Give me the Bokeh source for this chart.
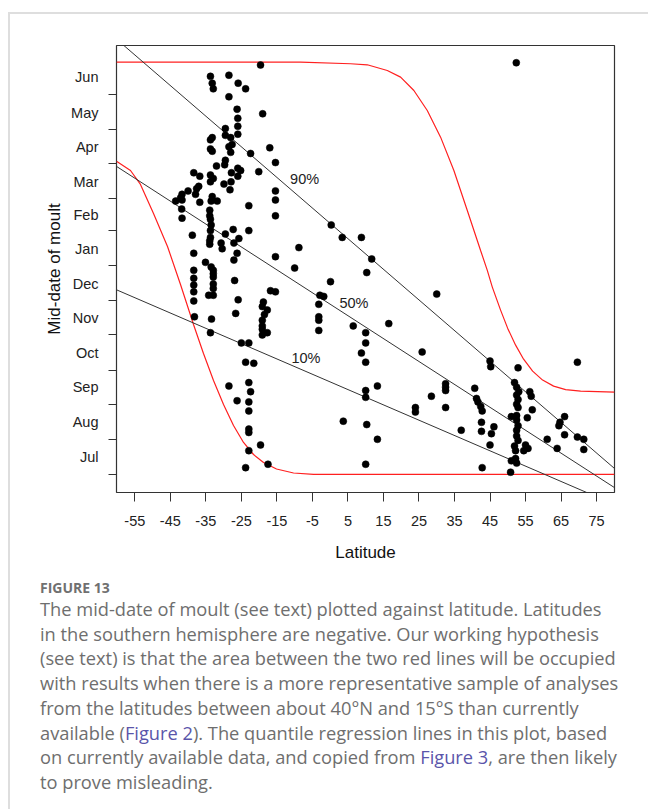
from bokeh.plotting import figure
from bokeh.layouts import column, row
from bokeh.models import Range1d, FixedTicker, Spacer, Div
from bokeh.embed import file_html
from bokeh.resources import INLINE
from bokeh.core.properties import value

# Mid-date of moult, in days after 1 July, against latitude (degrees, south negative)
latitude = [
    -19.6, -33.7, -28.5, -33.2, -32.9, -25.9, -23.8, -28.5, -26.2, -19.0,
    -26.0, -26.0, -29.5, -26.0, -33.2, -33.7, -29.5, -28.0, -27.6, -28.5,
    -33.7, -33.2, -28.0, -22.4, -17.0, -15.4, -29.5, -29.7, -32.0, -26.0,
    -25.2, -27.8, -26.0, -20.1, -38.4, -36.7, -33.7, -32.9, -33.7, -29.9,
    -27.9, -37.0, -37.6, -40.0, -28.2, -15.4, -41.7, -42.1, -37.9, -43.5,
    -41.7, -36.7, -33.2, -33.5, -31.8, -15.4, -41.8, -22.9, -33.9, -41.7,
    -33.9, -33.7, -15.4, -33.5, -33.7, -27.3, -22.9, -29.5, -38.8, -33.7,
    -25.7, -27.1, -33.9, -30.7, -33.9, -30.4, -26.2, -38.4, -15.4, -27.1,
    -35.1, -33.5, -38.4, -32.9, -32.9, -38.4, -32.9, -26.9, -38.4, -32.9,
    -32.9, -38.4, -34.2, -32.9, -16.8, -15.4, -25.9, -38.4, -18.8, -19.1,
    -17.7, -26.6, -18.5, -38.2, -33.4, -19.1, -19.1, -19.1, -17.7, -19.1,
    -33.7, -25.0, -22.9, -23.8, -21.5, -22.9, -28.5, -22.4, -26.2, -22.9,
    -22.9, -22.9, -22.9, -19.6, -22.9, -17.5, -23.8,
    0.3, 3.4, 8.8, -8.8, 11.7, -10.0, 10.3, 0.1, 30.0, -2.9,
    -1.8, -3.2, -3.2, -3.2, 6.5, 16.5, -3.2, 10.0, 10.0, 8.8,
    25.9, 10.0, 13.3, 10.0, 10.0, 32.5, 32.5, 32.5, 28.5, 24.0,
    24.0, 32.5, 3.7, 10.3, 13.3, 10.0,
    45.0, 45.2, 52.9, 69.6, 40.7, 41.2, 41.6, 42.4, 42.8, 42.6,
    46.1, 36.9, 42.6, 45.4, 45.0, 42.8, 50.8, 51.9, 52.5, 53.1,
    52.5, 52.9, 52.5, 52.9, 51.0, 52.5, 52.5, 52.9, 52.5, 52.5,
    52.9, 51.9, 52.2, 51.0, 52.2, 52.5, 56.2, 56.6, 56.9, 55.5,
    55.0, 55.7, 54.5, 61.1, 63.9, 64.7, 64.4, 66.0, 66.0, 69.6,
    71.4, 71.4, 52.4,
]
mid_date = [
    361, 351, 352, 345, 340, 345, 340, 333, 322, 318,
    314, 307, 305, 300, 297, 295, 299, 297, 291, 289,
    287, 285, 284, 283, 288, 275, 277, 273, 272, 270,
    268, 266, 263, 267, 266, 263, 264, 261, 258, 256,
    258, 254, 252, 250, 251, 250, 247, 244, 247, 241,
    242, 240, 245, 241, 241, 242, 234, 237, 233, 226,
    228, 225, 228, 220, 215, 216, 215, 212, 211, 209,
    208, 204, 206, 204, 203, 199, 195, 195, 192, 189,
    187, 183, 180, 180, 177, 173, 174, 171, 167, 168,
    164, 161, 158, 158, 162, 161, 154, 153, 152, 148,
    145, 142, 141, 139, 137, 136, 131, 128, 125, 123,
    125, 116, 116, 99, 98, 81, 78, 73, 65, 64,
    56, 40, 37, 26, 21, 9, 6,
    220, 209, 209, 200, 190, 182, 178, 170, 159, 158,
    157, 150, 139, 136, 131, 133, 127, 125, 116, 107,
    108, 99, 78, 74, 68, 80, 77, 74, 69, 59,
    55, 59, 47, 44, 31, 9,
    100, 95, 94, 99, 76, 67, 64, 60, 56, 46,
    42, 39, 38, 36, 26, 6, 2, 81, 77, 73,
    70, 66, 62, 59, 51, 52, 48, 43, 39, 34,
    30, 25, 21, 12, 14, 10, 73, 69, 57, 50,
    26, 23, 21, 31, 23, 46, 43, 51, 35, 33,
    31, 22, 363,
]

# Quantile regression lines: mid-date = intercept + slope * latitude
quantile_names = ["90%", "50%", "10%"]
quantile_intercept = [221.4, 150.1, 81.6]
quantile_slope = [-2.70, -2.02, -1.35]
quantile_label_lat = [-7.2, 6.7, -6.8]
quantile_label_day = [260.1, 151.6, 102.3]

# Hypothesised envelope of results (red lines)
lower_lat = [-60.15, -56.21, -53.40, -49.73, -45.79, -42.13, -38.47, -35.66, -32.84, -30.02,
             -27.21, -24.39, -21.58, -18.76, -15.10, -10.31, -4.68, 80.05]
lower_day = [276.2, 268.0, 255.7, 230.1, 201.0, 167.5, 132.2, 106.7, 82.9, 61.7,
             43.2, 28.2, 17.6, 10.6, 4.8, 1.3, 0.0, 0.0]
upper_lat = [-60.15, -8.34, 5.74, 10.45, 16.08, 19.83, 23.57, 27.34, 31.09, 34.83,
             38.61, 42.35, 44.24, 45.65, 47.98, 49.96, 52.21, 54.46, 57.00, 59.81,
             62.91, 66.29, 70.51, 80.05]
upper_day = [363.5, 363.5, 362.1, 361.2, 356.2, 350.3, 338.5, 320.9, 297.4, 268.0,
             232.7, 197.5, 179.9, 165.2, 144.9, 129.0, 114.0, 101.6, 91.1, 83.2,
             77.9, 74.8, 73.5, 72.6]

# Axis ticks
lat_ticks = [-55, -45, -35, -25, -15, -5, 5, 15, 25, 35, 45, 55, 65, 75]
month_names = ["Jul", "Aug", "Sep", "Oct", "Nov", "Dec",
               "Jan", "Feb", "Mar", "Apr", "May", "Jun"]
month_lengths = [31, 31, 30, 31, 30, 31, 31, 28, 31, 30, 31, 30]

month_starts = []
month_mids = []
start = 0
for n in month_lengths:
    month_starts.append(start)
    month_mids.append(start + n // 2)
    start += n

X_MIN, X_MAX = -60.15, 80.05
Y_MIN, Y_MAX = -15.9, 378.2

# Page geometry (pixels)
W, H = 648, 809
CARD_X, CARD_Y, CARD_BORDER = 8, 12, 2
IN_X, IN_Y = CARD_X + CARD_BORDER, CARD_Y + CARD_BORDER   # inner top-left of the card
INNER_W = W - IN_X
CHART_BOTTOM = 575
CHART_H = CHART_BOTTOM - IN_Y
CAP_H = H - CHART_BOTTOM
FRAME_L, FRAME_R, FRAME_T, FRAME_B = 116, 614, 45, 492

AX_FONT = "Liberation Sans"

# Chart
p = figure(width=INNER_W, height=CHART_H,
           x_range=Range1d(X_MIN, X_MAX), y_range=Range1d(Y_MIN, Y_MAX),
           output_backend="svg", toolbar_location=None,
           min_border_left=FRAME_L - IN_X, min_border_right=W - FRAME_R,
           min_border_top=FRAME_T - IN_Y, min_border_bottom=CHART_BOTTOM - FRAME_B)
p.xgrid.visible = False
p.ygrid.visible = False
p.outline_line_color = "#333333"
p.outline_line_width = 1.2
p.background_fill_color = "white"
p.border_fill_color = "white"

xa = p.xaxis[0]
xa.ticker = FixedTicker(ticks=lat_ticks)
xa.major_label_overrides = {t: str(t) for t in lat_ticks}
xa.major_tick_out = 9
xa.major_tick_in = 0
xa.minor_tick_out = 0
xa.minor_tick_in = 0
xa.axis_line_color = None
xa.major_tick_line_color = "#333333"
xa.major_label_text_font = AX_FONT
xa.major_label_text_font_size = "14.5px"
xa.major_label_text_color = "#222222"
xa.major_label_standoff = 14
xa.axis_label = "Latitude"
xa.axis_label_text_font = AX_FONT
xa.axis_label_text_font_size = "17px"
xa.axis_label_text_font_style = "normal"
xa.axis_label_text_color = "#111111"
xa.axis_label_standoff = 14

ya = p.yaxis[0]
ya.ticker = FixedTicker(ticks=month_mids, minor_ticks=month_starts)
ya.major_label_overrides = {m: name for m, name in zip(month_mids, month_names)}
ya.major_tick_out = 0
ya.major_tick_in = 0
ya.major_tick_line_color = None
ya.minor_tick_out = 8
ya.minor_tick_in = 0
ya.minor_tick_line_color = "#333333"
ya.axis_line_color = None
ya.major_label_text_font = AX_FONT
ya.major_label_text_font_size = "14.5px"
ya.major_label_text_color = "#222222"
ya.major_label_standoff = 10
ya.axis_label = "Mid-date of moult"
ya.axis_label_text_font = AX_FONT
ya.axis_label_text_font_size = "17px"
ya.axis_label_text_font_style = "normal"
ya.axis_label_text_color = "#111111"
ya.axis_label_standoff = 4

# Red envelope
p.line(lower_lat, lower_day, line_color="#ff2020", line_width=1.2)
p.line(upper_lat, upper_day, line_color="#ff2020", line_width=1.2)

# Quantile regression lines across the full latitude range
for a, b in zip(quantile_intercept, quantile_slope):
    p.line([X_MIN, X_MAX], [a + b * X_MIN, a + b * X_MAX], line_color="#333333", line_width=1)

p.text(quantile_label_lat, quantile_label_day, text=quantile_names,
       text_font=value(AX_FONT), text_font_size="14.5px", text_color="#222222",
       text_align="center", text_baseline="middle")

# Observations
p.scatter(latitude, mid_date, size=7, fill_color="black", line_color="black", line_width=0.5)

# Caption
CAP_GREY = "#6e6e6e"
LINK = "#5a55aa"
caption_lines = [
    "The mid-date of moult (see text) plotted against latitude. Latitudes",
    "in the southern hemisphere are negative. Our working hypothesis",
    "(see text) is that the area between the two red lines will be occupied",
    "with results when there is a more representative sample of analyses",
    "from the latitudes between about 40°N and 15°S than currently",
    f'available (<span style="color:{LINK}">Figure 2</span>). '
    "The quantile regression lines in this plot, based",
    "on currently available data, and copied from "
    f'<span style="color:{LINK}">Figure 3</span>, are then likely',
    "to prove misleading.",
]
CAP_LEFT = 40 - IN_X
cap_html = (
    f'<div style="position:relative;width:{INNER_W}px;height:{CAP_H}px;'
    f"font-family:'Open Sans',sans-serif;color:{CAP_GREY};white-space:nowrap;\">"
    f'<div style="position:absolute;left:{CAP_LEFT}px;top:5px;font-size:14px;'
    f'font-weight:bold;line-height:16px;color:#707070;">FIGURE 13</div>'
    f'<div style="position:absolute;left:{CAP_LEFT}px;top:22px;font-size:18.25px;'
    f'line-height:24.7px;">' + "<br>".join(caption_lines) + "</div></div>"
)
cap = Div(text=cap_html, width=INNER_W, height=CAP_H, margin=(0, 0, 0, 0))

card = column(p, cap, styles={"border-left": f"{CARD_BORDER}px solid #dedede",
                              "border-top": f"{CARD_BORDER}px solid #dedede"})
page = column(Spacer(width=W, height=CARD_Y),
              row(Spacer(width=CARD_X, height=H - CARD_Y), card))
open("out.html", "w").write(file_html(page, INLINE))
